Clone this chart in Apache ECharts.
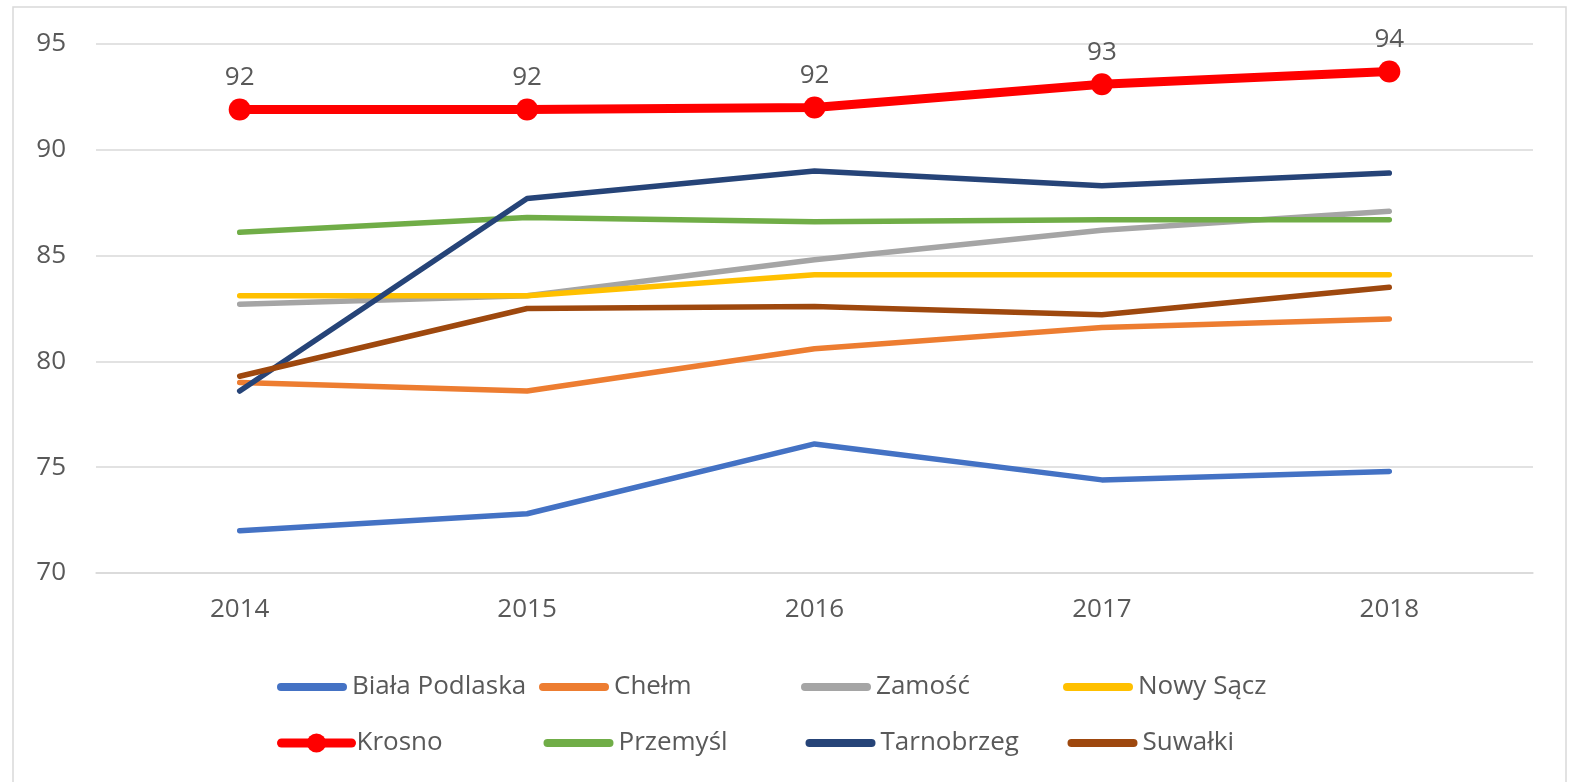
<!DOCTYPE html>
<html>
<head>
<meta charset="utf-8">
<script src="https://cdn.jsdelivr.net/npm/echarts@6/dist/echarts.min.js"></script>
<style>
  html, body { margin: 0; padding: 0; background: #fff; }
  #lineChart { width: 1572px; height: 782px; }
</style>
</head>
<body>
<div id="lineChart"></div>
<script>
const years = ["2014", "2015", "2016", "2017", "2018"];

// wartości
const cities = [
  { name: "Biała Podlaska", color: "#4472C4", data: [72.0, 72.8, 76.1, 74.4, 74.8] },
  { name: "Chełm", color: "#ED7D31", data: [79.0, 78.6, 80.6, 81.6, 82.0] },
  { name: "Zamość", color: "#A5A5A5", data: [82.7, 83.1, 84.8, 86.2, 87.1] },
  { name: "Nowy Sącz", color: "#FFC000", data: [83.1, 83.1, 84.1, 84.1, 84.1] },
  { name: "Krosno", color: "#FF0000", data: [91.9, 91.9, 92.0, 93.1, 93.7] },
  { name: "Przemyśl", color: "#70AD47", data: [86.1, 86.8, 86.6, 86.7, 86.7] },
  { name: "Tarnobrzeg", color: "#264478", data: [78.6, 87.7, 89.0, 88.3, 88.9] },
  { name: "Suwałki", color: "#9E480E", data: [79.3, 82.5, 82.6, 82.2, 83.5] },
];

const font = "'Open Sans', 'Liberation Sans', sans-serif";
const textColor = "#595959";

// gruba linia z zaokrąglonymi końcami jako ikona legendy
const lineIcon = "path://M4,0 H66 A4,4 0 0 1 66,8 H4 A4,4 0 0 1 4,0 Z";

const legendItem = (c) =>
  c.name === "Krosno" ? { name: c.name } : { name: c.name, icon: lineIcon };

const legendBase = {
  left: 272,
  itemWidth: 70,
  itemHeight: 24,
  itemGap: 10,
  lineStyle: { width: 9, cap: "round" },
  textStyle: {
    color: textColor,
    fontSize: 26,
    fontFamily: font,
    lineHeight: 30,
    width: 177,
    overflow: "truncate",
  },
};

const options = {
  animation: false,
  graphic: [
    {
      type: "rect",
      shape: { x: 13, y: 7, width: 1553, height: 790 },
      style: { fill: "none", stroke: "#d9d9d9", lineWidth: 1.5 },
      silent: true,
    },
  ],
  grid: {
    left: 96,
    right: 39,
    top: 44,
    bottom: 209,
  },
  legend: [
    { ...legendBase, top: 667, data: cities.slice(0, 4).map(legendItem) },
    { ...legendBase, top: 723, data: cities.slice(4).map(legendItem) },
  ],
  xAxis: {
    type: "category",
    data: years,
    boundaryGap: true,
    axisLine: { show: true, lineStyle: { color: "#d9d9d9", width: 1.5 } },
    axisTick: { show: false },
    axisLabel: { color: textColor, fontSize: 26, fontFamily: font, margin: 24 },
  },
  yAxis: {
    type: "value",
    min: 70,
    max: 95,
    interval: 5,
    axisLine: { show: false },
    axisTick: { show: false },
    splitLine: { lineStyle: { color: "#d9d9d9", width: 1.5 } },
    axisLabel: { color: textColor, fontSize: 26, fontFamily: font, margin: 30 },
  },
  series: cities.map((c) => {
    const isKrosno = c.name === "Krosno";
    return {
      name: c.name,
      type: "line",
      data: c.data,
      color: c.color,
      symbol: isKrosno ? "circle" : "none",
      symbolSize: 22,
      showSymbol: isKrosno,
      lineStyle: { color: c.color, width: isKrosno ? 9 : 5.5, cap: "round", join: "round" },
      itemStyle: { color: c.color },
      z: isKrosno ? 3 : 2,
      label: isKrosno
        ? {
            show: true,
            position: "top",
            distance: 8,
            color: textColor,
            fontSize: 26,
            fontFamily: font,
            formatter: (p) => Math.round(p.value),
          }
        : { show: false },
    };
  }),
};

const chart = echarts.init(document.getElementById("lineChart"));
chart.setOption(options);
window.addEventListener("resize", () => chart.resize());
</script>
</body>
</html>
